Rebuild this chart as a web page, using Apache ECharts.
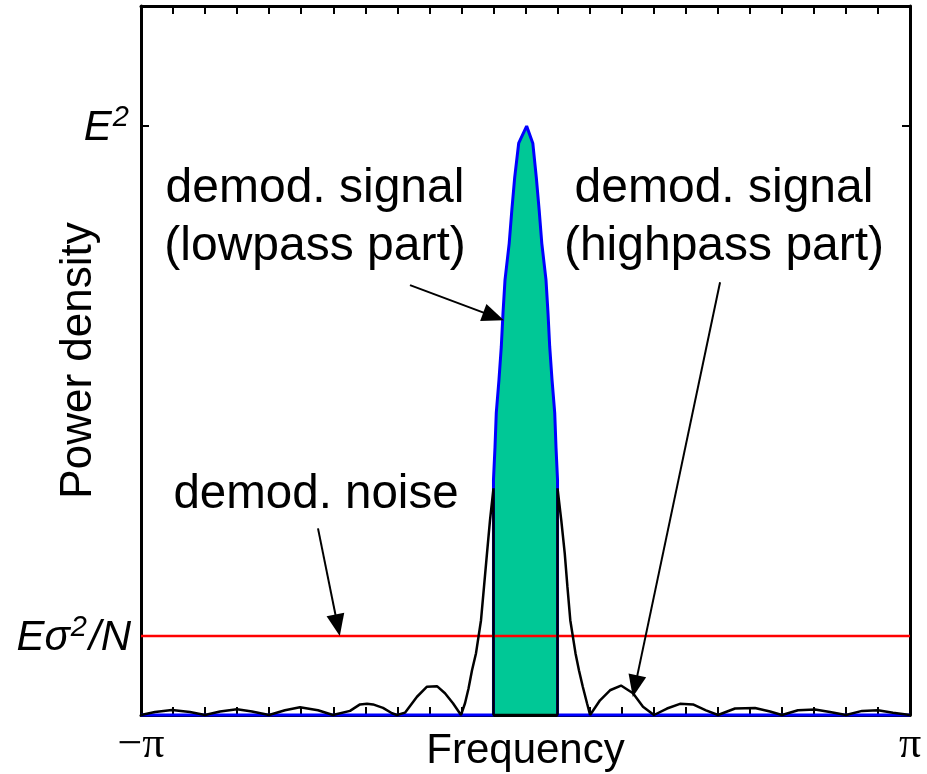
<!DOCTYPE html>
<html lang="en">
  <head>
    <meta charset="UTF-8" />
    <title>Power density</title>
    <script src="https://cdn.jsdelivr.net/npm/echarts@6/dist/echarts.min.js"></script>
    <style>
      body {
        margin: 0;
        background: #fff;
      }
      #main {
        width: 927px;
        height: 774px;
      }
    </style>
  </head>
  <body>
    <div id="main"></div>
    <script>
      // frequency in units of pi, power density in units of E^2
      var lowX = [-1, -0.0833, -0.0833, -0.0793, -0.076, -0.069, -0.063, -0.0585, -0.0533, -0.0424, -0.0356, -0.0281, -0.0177, 0.003,
        0.019, 0.0281, 0.0356, 0.0424, 0.0533, 0.0585, 0.063, 0.069, 0.076, 0.0793, 0.0833, 0.0833, 1];
      var lowY = [0, 0, 0.399, 0.455, 0.513, 0.569, 0.625, 0.683, 0.739, 0.801, 0.857, 0.913, 0.971, 1.0,
        0.971, 0.913, 0.857, 0.801, 0.739, 0.683, 0.625, 0.569, 0.513, 0.455, 0.399, 0, 0];

      var highX = [-1, -0.9636, -0.9194, -0.8726, -0.8336, -0.7945, -0.7503, -0.7113, -0.6671,
        -0.6255, -0.5865, -0.5397, -0.5007, -0.4564, -0.4304, -0.4122, -0.3966, -0.3706, -0.3472, -0.3342,
        -0.3134, -0.2822, -0.2562, -0.2302, -0.2094, -0.1886, -0.1678,
        -0.1573, -0.1482, -0.1391, -0.1287, -0.1157, -0.1079, -0.1001, -0.0923, -0.0833,
        -0.0833, 0.0833, 0.0833,
        0.093, 0.102, 0.109, 0.1165, 0.13, 0.139, 0.149, 0.16, 0.168,
        0.1938, 0.2198, 0.2484, 0.2796, 0.3056, 0.3342,
        0.368, 0.4018, 0.4356, 0.4694, 0.5007,
        0.5449, 0.5969, 0.6359, 0.6671,
        0.7087, 0.7529, 0.7919, 0.8336,
        0.8752, 0.9168, 0.9558, 1];
      var highY = [0, 0.005, 0.0085, 0.005, 0, 0.006, 0.0097, 0.006, 0,
        0.008, 0.013, 0.008, 0, 0.007, 0.018, 0.019, 0.018, 0.012, 0.003, 0,
        0.004, 0.031, 0.048, 0.049, 0.037, 0.02, 0,
        0.02, 0.045, 0.076, 0.105, 0.161, 0.218, 0.275, 0.331, 0.385,
        0, 0, 0.385,
        0.331, 0.275, 0.218, 0.161, 0.105, 0.076, 0.048, 0.02, 0,
        0.025, 0.042, 0.05, 0.037, 0.014, 0,
        0.011, 0.019, 0.018, 0.008, 0,
        0.011, 0.012, 0.006, 0,
        0.008, 0.0095, 0.005, 0,
        0.007, 0.008, 0.004, 0];

      var noiseX = [-1, 1];
      var noiseY = [0.134, 0.134];

      var yTicks = [0.134, 1];
      var xLabelTicks = [-1, 1];
      var xTickNames = ["\u2212\u03c0", "\u03c0"];

      // arrows: [tail, head] in data units
      var arrows = [
        [[-0.3004, 0.73], [-0.083, 0.677]],
        [[0.506, 0.735], [0.285, 0.049]],
        [[-0.5397, 0.317], [-0.4887, 0.1525]],
      ];

      function zip(xs, ys) {
        return xs.map(function (x, i) {
          return [x, ys[i]];
        });
      }

      var tickStyle = { show: true, inside: true, length: 8, lineStyle: { color: "#000", width: 2 } };
      var lineAxis = { show: true, onZero: false, lineStyle: { color: "#000", width: 3 } };
      var font = "Liberation Sans";

      var myChart = echarts.init(document.getElementById("main"));
      var option = {
        animation: false,
        backgroundColor: "#fff",
        grid: { left: 141, right: 17, top: 6, bottom: 59, containLabel: false, outerBoundsMode: "none" },
        xAxis: [
          {
            type: "value",
            position: "bottom",
            min: -1,
            max: 1,
            interval: 1 / 12,
            axisLine: lineAxis,
            axisTick: tickStyle,
            splitLine: { show: false },
            axisLabel: {
              customValues: xLabelTicks,
              margin: 8,
              fontSize: 44,
              fontFamily: "Liberation Serif",
              color: "#000",
              formatter: function (v) {
                return v < 0 ? xTickNames[0] : xTickNames[1];
              },
            },
            name: "Frequency",
            nameLocation: "middle",
            nameGap: 15,
            nameMoveOverlap: false,
            nameTextStyle: { fontSize: 42, fontFamily: font, color: "#000" },
          },
          {
            type: "value",
            position: "top",
            min: -1,
            max: 1,
            interval: 1 / 12,
            axisLine: lineAxis,
            axisTick: tickStyle,
            splitLine: { show: false },
            axisLabel: { show: false },
          },
        ],
        yAxis: [
          {
            type: "value",
            position: "left",
            min: 0,
            max: 1.204,
            axisLine: lineAxis,
            axisTick: Object.assign({}, tickStyle, { customValues: yTicks }),
            splitLine: { show: false },
            axisLabel: {
              customValues: yTicks,
              margin: 10,
              color: "#000",
              formatter: function (v) {
                return v > 0.5 ? "{i|E}{s|2}" : "{i|E\u03c3}{s|2}{i|/N}";
              },
              rich: {
                i: { fontSize: 42, fontStyle: "italic", fontFamily: font, color: "#000", verticalAlign: "bottom" },
                s: { fontSize: 29, fontStyle: "italic", fontFamily: font, color: "#000", verticalAlign: "bottom", padding: [0, 2, 17, 1] },
              },
            },
            name: "Power density",
            nameLocation: "middle",
            nameGap: 40,
            nameMoveOverlap: false,
            nameTextStyle: { fontSize: 44, fontFamily: font, color: "#000" },
          },
          {
            type: "value",
            position: "right",
            min: 0,
            max: 1.204,
            axisLine: lineAxis,
            axisTick: Object.assign({}, tickStyle, { customValues: yTicks }),
            splitLine: { show: false },
            axisLabel: { show: false },
          },
        ],
        series: [
          {
            name: "lowpass",
            type: "line",
            data: zip(lowX, lowY),
            symbol: "none",
            clip: false,
            z: 3,
            lineStyle: { color: "#0000ff", width: 3 },
            areaStyle: { color: "#00c896", opacity: 1, origin: 0 },
          },
          {
            name: "noise",
            type: "line",
            data: zip(noiseX, noiseY),
            symbol: "none",
            z: 4,
            lineStyle: { color: "#ff0000", width: 2.5 },
          },
          {
            name: "highpass",
            type: "line",
            data: zip(highX, highY),
            symbol: "none",
            clip: false,
            z: 5,
            lineStyle: { color: "#000", width: 2.5 },
            markLine: {
              silent: true,
              symbol: ["none", "triangle"],
              symbolSize: [18, 22],
              label: { show: false },
              lineStyle: { color: "#000", width: 2, type: "solid" },
              data: arrows.map(function (a) {
                return [{ coord: a[0] }, { coord: a[1] }];
              }),
            },
          },
        ],
        graphic: [
          {
            type: "text",
            x: 315,
            y: 160,
            style: {
              text: "demod. signal\n(lowpass part)",
              fontSize: 48,
              lineHeight: 58,
              fontFamily: font,
              fill: "#000",
              align: "center",
            },
          },
          {
            type: "text",
            x: 724,
            y: 160,
            style: {
              text: "demod. signal\n(highpass part)",
              fontSize: 48,
              lineHeight: 58,
              fontFamily: font,
              fill: "#000",
              align: "center",
            },
          },
          {
            type: "text",
            x: 316,
            y: 466,
            style: {
              text: "demod. noise",
              fontSize: 47.5,
              lineHeight: 58,
              fontFamily: font,
              fill: "#000",
              align: "center",
            },
          },
        ],
      };
      myChart.setOption(option);
    </script>
  </body>
</html>
